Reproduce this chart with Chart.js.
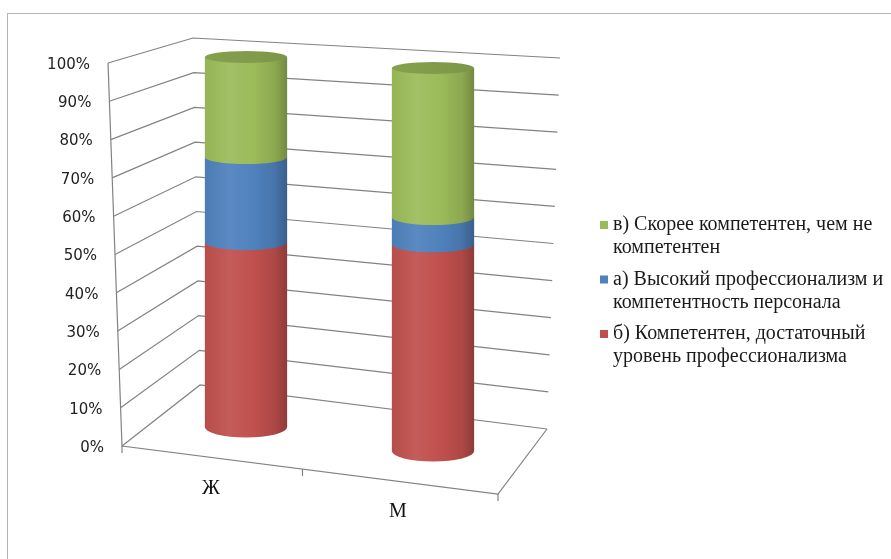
<!DOCTYPE html>
<html>
<head>
<meta charset="utf-8">
<script src="https://cdn.jsdelivr.net/npm/chart.js@4.4.1/dist/chart.umd.min.js"></script>
<style>
  html, body { margin: 0; padding: 0; background: #fff; }
  canvas { display: block; }
</style>
</head>
<body>
<canvas id="chart" width="891" height="559"></canvas>
<script>
const categories = ['Ж', 'М'];
const seriesNames = [
  ['б) Компетентен, достаточный', 'уровень профессионализма'],
  ['а) Высокий профессионализм и', 'компетентность персонала'],
  ['в) Скорее компетентен, чем не', 'компетентен']
];
const seriesColors = ['#c0504d', '#4f81bd', '#9bbb59'];
const valuesB = [50, 54];
const valuesA = [23, 7];
const valuesV = [27, 39];
const yTicks = [0, 10, 20, 30, 40, 50, 60, 70, 80, 90, 100];
const yTickLabels = yTicks.map(v => v + '%');

function shade(hex, f) {
  const n = parseInt(hex.slice(1), 16);
  const m = c => Math.round(f >= 1 ? c + (255 - c) * (f - 1) : c * f);
  return 'rgb(' + m(n >> 16) + ',' + m((n >> 8) & 255) + ',' + m(n & 255) + ')';
}

const lerp = (a, b, t) => a + (b - a) * t;

// draws the excel-like 3d walls, cylinders, labels and legend
const frame3d = {
  id: 'frame3d',
  beforeDatasetsDraw() {
    return false;
  },
  afterDraw(chart, args, o) {
    const ctx = chart.ctx;
    const area = chart.chartArea;
    const yScale = chart.scales.y;
    const g = o.geo;

    const front = t => ({ x: lerp(g.frontX[0], g.frontX[1], t), y: yScale.getPixelForValue(t * 100) });
    const backL = t => ({ x: lerp(g.backL.x[0], g.backL.x[1], t), y: lerp(g.backL.y[0], g.backL.y[1], t) });
    const backR = t => ({ x: lerp(g.backR.x[0], g.backR.x[1], t), y: lerp(g.backR.y[0], g.backR.y[1], t) });

    ctx.save();
    // outer border
    ctx.strokeStyle = '#b4b4b4';
    ctx.lineWidth = 1;
    ctx.strokeRect(7.5, 13.5, 920, 600);

    // walls
    ctx.strokeStyle = '#828282';
    ctx.lineWidth = 1.2;
    yTicks.forEach(v => {
      const t = v / 100;
      const f = front(t), bl = backL(t), br = backR(t);
      ctx.beginPath();
      ctx.moveTo(f.x, f.y);
      ctx.lineTo(bl.x, bl.y);
      ctx.lineTo(br.x, br.y);
      ctx.stroke();
    });
    const f0 = front(0), f1 = front(1);
    ctx.beginPath();
    ctx.moveTo(f1.x, f1.y);
    ctx.lineTo(f0.x, f0.y);
    ctx.lineTo(g.floorFR[0], g.floorFR[1]);
    ctx.lineTo(backR(0).x, backR(0).y);
    ctx.stroke();
    // floor ticks
    const fm = { x: lerp(f0.x, g.floorFR[0], 0.48), y: lerp(f0.y, g.floorFR[1], 0.48) };
    [f0, fm, { x: g.floorFR[0], y: g.floorFR[1] }].forEach(p => {
      ctx.beginPath();
      ctx.moveTo(p.x, p.y);
      ctx.lineTo(p.x, p.y + 7);
      ctx.stroke();
    });

    // tick labels
    ctx.fillStyle = '#222';
    ctx.font = '15px "DejaVu Sans"';
    ctx.textAlign = 'right';
    ctx.textBaseline = 'middle';
    yTicks.forEach((v, i) => {
      const f = front(v / 100);
      ctx.fillText(yTickLabels[i], f.x - 18, f.y + 2);
    });

    // cylinders
    const cy = (x, t) => {
      const dx = x - area.left;
      return lerp(g.cylBot[0] + g.cylBot[1] * dx, g.cylTop[0] + g.cylTop[1] * dx, t);
    };
    const ry = t => lerp(g.ry[0], g.ry[1], t);
    const n = chart.data.datasets.length;
    categories.forEach((c, i) => {
      let topT = 0, topX = 0, topR = 0, topColor = null;
      for (let d = 0; d < n; d++) {
        const el = chart.getDatasetMeta(d).data[i];
        const t0 = yScale.getValueForPixel(el.base) / 100;
        const t1 = yScale.getValueForPixel(el.y) / 100;
        if (t1 - t0 <= 0.0001) continue;
        const x = el.x, rx = el.width / 2;
        const y0 = cy(x, t0), y1 = cy(x, t1);
        const col = chart.data.datasets[d].backgroundColor;
        const gr = ctx.createLinearGradient(x - rx, 0, x + rx, 0);
        gr.addColorStop(0, shade(col, 0.96));
        gr.addColorStop(0.3, shade(col, 1.07));
        gr.addColorStop(0.6, shade(col, 1.0));
        gr.addColorStop(0.85, shade(col, 0.9));
        gr.addColorStop(1, shade(col, 0.74));
        ctx.fillStyle = gr;
        ctx.beginPath();
        ctx.moveTo(x - rx, y1);
        ctx.lineTo(x - rx, y0);
        ctx.ellipse(x, y0, rx, ry(t0), 0, Math.PI, 0, true);
        ctx.lineTo(x + rx, y1);
        ctx.closePath();
        ctx.fill();
        topT = t1; topX = x; topR = rx; topColor = col;
      }
      if (topColor) {
        const gr = ctx.createLinearGradient(topX - topR, 0, topX + topR, 0);
        gr.addColorStop(0, shade(topColor, 0.86));
        gr.addColorStop(1, shade(topColor, 0.8));
        ctx.fillStyle = gr;
        ctx.beginPath();
        ctx.ellipse(topX, cy(topX, topT), topR, ry(topT), 0, 0, Math.PI * 2);
        ctx.fill();
      }
      // category label
      const lx = chart.scales.x.getPixelForValue(i) - 35;
      const ly = lerp(f0.y, g.floorFR[1], (lx - f0.x) / (g.floorFR[0] - f0.x)) + 31;
      ctx.fillStyle = '#111';
      ctx.font = '20px "Liberation Serif"';
      ctx.textAlign = 'center';
      ctx.textBaseline = 'middle';
      ctx.fillText(c, lx, ly);
    });

    // legend, reversed order like excel
    const L = o.legend;
    ctx.font = L.font;
    ctx.textAlign = 'left';
    ctx.textBaseline = 'middle';
    chart.data.datasets.slice().reverse().forEach((ds, k) => {
      const y = L.y + k * L.gap;
      ctx.fillStyle = ds.backgroundColor;
      ctx.fillRect(L.x, y - L.box / 2, L.box, L.box);
      ctx.fillStyle = '#1a1a1a';
      ds.legendLines.forEach((ln, j) => ctx.fillText(ln, L.textX, y + j * L.line));
    });
    ctx.restore();
  }
};

const seriesValues = [valuesB, valuesA, valuesV];

new Chart(document.getElementById('chart'), {
  type: 'bar',
  data: {
    labels: categories,
    datasets: seriesValues.map((vals, i) => ({
      label: seriesNames[i].join(' '),
      legendLines: seriesNames[i],
      data: vals,
      backgroundColor: seriesColors[i],
      barPercentage: 0.44,
      categoryPercentage: 1
    }))
  },
  options: {
    responsive: false,
    animation: false,
    devicePixelRatio: 1,
    layout: { padding: { left: 152.5, right: 364.5, top: 63, bottom: 113 } },
    scales: {
      x: { display: false, stacked: true },
      y: { display: false, stacked: true, min: 0, max: 100 }
    },
    plugins: {
      legend: { display: false },
      tooltip: { enabled: false },
      frame3d: {
        geo: {
          frontX: [122, 108],
          backL: { x: [200, 193], y: [385, 38] },
          backR: { x: [547, 560], y: [429, 58] },
          floorFR: [498, 494],
          cylBot: [415, 0.1283],
          cylTop: [51.5, 0.0588],
          ry: [10.5, 6]
        },
        legend: { x: 600, y: 225, gap: 54.5, line: 23, box: 8, textX: 613, font: '20px "Liberation Serif"' }
      }
    }
  },
  plugins: [frame3d]
});
</script>
</body>
</html>
